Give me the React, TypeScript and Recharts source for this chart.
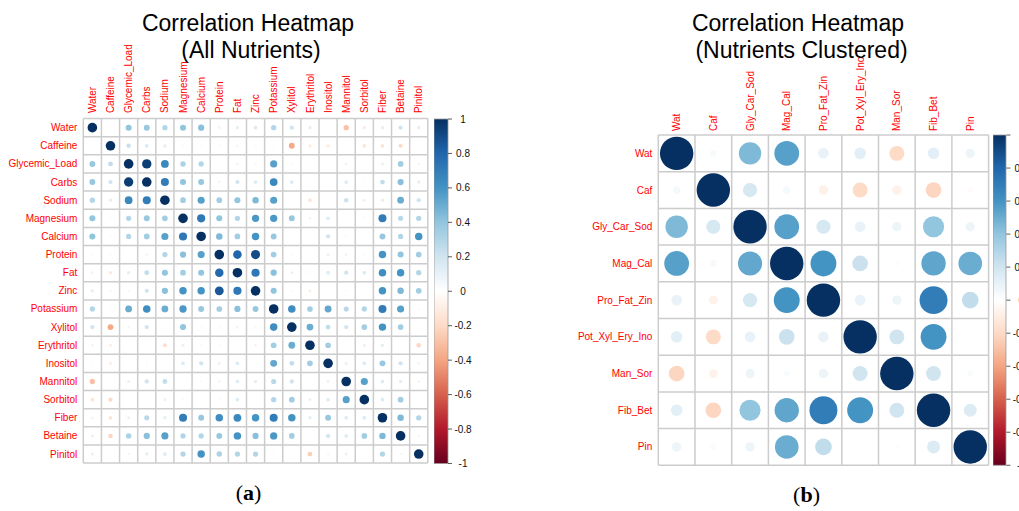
import React from 'react';
import { ScatterChart, Scatter, BarChart, Bar, XAxis, YAxis, ReferenceLine } from 'recharts';

const allNutrients = [
  'Water', 'Caffeine', 'Glycemic_Load', 'Carbs', 'Sodium', 'Magnesium', 'Calcium', 'Protein', 'Fat', 'Zinc',
  'Potassium', 'Xylitol', 'Erythritol', 'Inositol', 'Mannitol', 'Sorbitol', 'Fiber', 'Betaine', 'Pinitol',
];

const clusterNutrients = ['Wat', 'Caf', 'Gly_Car_Sod', 'Mag_Cal', 'Pro_Fat_Zin', 'Pot_Xyl_Ery_Ino', 'Man_Sor', 'Fib_Bet', 'Pin'];

const waterRow = [1, 0.04, 0.4, 0.38, 0.3, 0.4, 0.42, 0.08, 0.12, 0.15, 0.3, 0.2, 0.12, -0.05, -0.3, -0.12, 0.12, 0.2, 0.12];
const caffeineRow = [0.03, 1, 0.22, 0.15, 0.12, 0.05, 0.04, -0.05, -0.07, -0.05, -0.04, -0.38, -0.12, -0.12, 0.02, -0.15, -0.15, -0.2, -0.02];
const glycemicRow = [0.38, 0.25, 1, 0.95, 0.65, 0.32, 0.3, 0.02, 0.08, 0.05, 0.55, 0.05, 0, 0.02, 0.08, 0.02, 0.1, 0.35, 0.07];
const carbsRow = [0.38, 0.2, 0.95, 1, 0.7, 0.4, 0.38, 0.07, 0.2, 0.15, 0.65, 0.15, 0, 0.04, 0.15, 0.04, 0.25, 0.42, 0.12];
const sodiumRow = [0.3, 0.12, 0.65, 0.7, 1, 0.35, 0.55, 0.35, 0.4, 0.45, 0.55, 0.02, -0.15, 0.02, 0.22, 0.1, 0.12, 0.5, 0.2];
const magnesiumRow = [0.4, 0.05, 0.3, 0.38, 0.35, 1, 0.72, 0.4, 0.3, 0.58, 0.58, 0.38, 0.08, 0.15, 0.02, 0.05, 0.7, 0.28, 0.3];
const calciumRow = [0.4, 0.05, 0.3, 0.35, 0.55, 0.72, 1, 0.45, 0.35, 0.6, 0.38, 0.03, -0.03, 0.2, 0.05, 0.02, 0.38, 0.3, 0.6];
const proteinRow = [0.05, -0.05, 0.02, 0.08, 0.3, 0.42, 0.55, 1, 0.8, 0.9, 0.35, 0.05, 0.02, 0.1, 0.08, 0.05, 0.6, 0.4, 0.35];
const fatRow = [0.08, -0.12, 0.12, 0.25, 0.4, 0.35, 0.4, 0.78, 1, 0.72, 0.42, 0.1, -0.04, 0.15, 0.2, 0.15, 0.62, 0.6, 0.3];
const zincRow = [0.12, -0.06, 0.06, 0.2, 0.42, 0.6, 0.6, 0.85, 0.72, 1, 0.4, 0.05, -0.1, 0.02, 0.05, 0.02, 0.6, 0.45, 0.35];
const potassiumRow = [0.3, -0.04, 0.5, 0.62, 0.5, 0.58, 0.38, 0.35, 0.42, 0.38, 1, 0.62, 0.35, 0.52, 0.28, 0.3, 0.7, 0.55, 0.05];
const xylitolRow = [0.2, -0.38, 0.07, 0.2, 0.02, 0.4, 0.04, 0.05, 0.08, 0.05, 0.62, 1, 0.5, 0.25, 0.2, 0.35, 0.6, 0.35, 0.03];
const erythritolRow = [0.08, -0.1, 0.02, 0, -0.18, 0.1, -0.05, -0.05, -0.03, -0.08, 0.35, 0.5, 1, 0.35, 0.01, 0.1, 0.12, 0.02, -0.22];
const inositolRow = [-0.04, -0.1, -0.02, 0.05, 0.02, 0.15, 0.2, 0.1, 0.15, 0.02, 0.52, 0.25, 0.35, 1, 0.1, 0.15, 0.38, 0.2, 0.08];
const mannitolRow = [-0.3, 0.02, 0.1, 0.2, 0.25, 0.02, 0.05, 0.08, 0.15, 0.12, 0.28, 0.2, 0.02, 0.1, 1, 0.55, 0.15, 0.12, 0.08];
const sorbitolRow = [-0.15, -0.2, 0.02, 0.02, 0.1, 0.05, 0.03, 0.05, 0.15, 0.04, 0.3, 0.35, 0.1, 0.15, 0.55, 1, 0.15, 0.35, 0.02];
const fiberRow = [0.08, -0.15, 0.1, 0.28, 0.12, 0.7, 0.38, 0.62, 0.65, 0.6, 0.7, 0.6, 0.12, 0.38, 0.15, 0.15, 1, 0.45, 0.3];
const betaineRow = [0.1, -0.22, 0.32, 0.42, 0.55, 0.3, 0.3, 0.38, 0.6, 0.42, 0.58, 0.35, 0.02, 0.2, 0.15, 0.35, 0.45, 1, 0.06];
const pinitolRow = [0.1, -0.02, 0.07, 0.12, 0.15, 0.3, 0.6, 0.32, 0.3, 0.3, 0.04, 0.01, -0.25, 0.06, 0.1, 0.02, 0.3, 0.06, 1];

const allCorr = [
  waterRow, caffeineRow, glycemicRow, carbsRow, sodiumRow, magnesiumRow, calciumRow, proteinRow, fatRow, zincRow,
  potassiumRow, xylitolRow, erythritolRow, inositolRow, mannitolRow, sorbitolRow, fiberRow, betaineRow, pinitolRow,
];

const clusterCorr = [
  [1, 0.04, 0.45, 0.55, 0.1, 0.12, -0.2, 0.12, 0.08],
  [0.05, 1, 0.18, 0.05, -0.08, -0.2, -0.08, -0.22, -0.03],
  [0.45, 0.18, 1, 0.55, 0.18, 0.1, 0.08, 0.4, 0.08],
  [0.55, 0.04, 0.52, 1, 0.6, 0.22, 0.02, 0.53, 0.5],
  [0.1, -0.07, 0.18, 0.6, 1, 0.1, 0.08, 0.7, 0.25],
  [0.12, -0.2, 0.1, 0.22, 0.1, 1, 0.2, 0.6, 0.01],
  [-0.22, -0.07, 0.08, 0.03, 0.08, 0.2, 1, 0.2, 0.03],
  [0.12, -0.22, 0.4, 0.53, 0.7, 0.6, 0.2, 1, 0.15],
  [0.08, -0.03, 0.08, 0.5, 0.25, 0.01, 0.02, 0.15, 1],
];

const colorbarTicks = [1, 0.8, 0.6, 0.4, 0.2, 0, -0.2, -0.4, -0.6, -0.8, -1];
const colorbarRange = [{ key: 'scale', range: [-1, 1] }];
const titleA = ['Correlation Heatmap', '(All Nutrients)'];
const titleB = ['Correlation Heatmap', '(Nutrients Clustered)'];

const RDBU = ['#67001F', '#B2182B', '#D6604D', '#F4A582', '#FDDBC7', '#FFFFFF', '#D1E5F0', '#92C5DE', '#4393C3', '#2166AC', '#053061'];
const FONT = '"Liberation Sans", Arial, sans-serif';
const LABEL_RED = '#FF0000';
const GRID = '#CCCCCC';

function hexToRgb(h: string) {
  const n = parseInt(h.slice(1), 16);
  return [(n >> 16) & 255, (n >> 8) & 255, n & 255];
}

function corrColor(v: number) {
  const t = Math.max(0, Math.min(10, (v + 1) * 5));
  const i = Math.min(9, Math.floor(t));
  const f = t - i;
  const a = hexToRgb(RDBU[i]);
  const b = hexToRgb(RDBU[i + 1]);
  const c = a.map((x, k) => Math.round(x + (b[k] - x) * f));
  return `rgb(${c[0]},${c[1]},${c[2]})`;
}

type GridProps = {
  labels: string[];
  matrix: number[][];
  left: number;
  top: number;
  size: number;
  rFrac: number;
  fontSize: number;
  colGap: number;
  rowGap: number;
};

function CorrGrid({ labels, matrix, left, top, size, rFrac, fontSize, colGap, rowGap }: GridProps) {
  const n = labels.length;
  const cell = size / n;
  const rMax = cell * rFrac;
  const cells = matrix.flatMap((row, i) => row.map((v, j) => ({ x: j + 0.5, y: i + 0.5, v })));
  const centers = labels.map((_, i) => i + 0.5);
  const bounds = Array.from({ length: n + 1 }, (_, i) => i);
  const pad = 3;
  return (
    <div style={{ position: 'absolute', left: 0, top: 0 }}>
      <ScatterChart width={left + size + pad} height={top + size + pad} margin={{ top: 0, left: 0, right: pad, bottom: pad }}>
        <XAxis
          type="number"
          dataKey="x"
          orientation="top"
          domain={[0, n]}
          ticks={centers}
          interval={0}
          height={top}
          axisLine={false}
          tickLine={false}
          tick={(p: any) => (
            <text
              transform={`translate(${p.x + fontSize * 0.36}, ${top - colGap}) rotate(-90)`}
              textAnchor="start"
              fontSize={fontSize}
              fontFamily={FONT}
              fill={LABEL_RED}
            >
              {labels[Math.floor(p.payload.value)]}
            </text>
          )}
        />
        <YAxis
          type="number"
          dataKey="y"
          reversed
          domain={[0, n]}
          ticks={centers}
          interval={0}
          width={left}
          axisLine={false}
          tickLine={false}
          tick={(p: any) => (
            <text x={left - rowGap} y={p.y} dy="0.35em" textAnchor="end" fontSize={fontSize} fontFamily={FONT} fill={LABEL_RED}>
              {labels[Math.floor(p.payload.value)]}
            </text>
          )}
        />
        {bounds.map((b) => (
          <ReferenceLine key={`vx${b}`} x={b} stroke={GRID} strokeWidth={1.5} />
        ))}
        {bounds.map((b) => (
          <ReferenceLine key={`hy${b}`} y={b} stroke={GRID} strokeWidth={1.5} />
        ))}
        <Scatter
          data={cells}
          isAnimationActive={false}
          shape={(p: any) => {
            const v = p.payload.v as number;
            return <circle cx={p.cx} cy={p.cy} r={rMax * Math.sqrt(Math.abs(v))} fill={corrColor(v)} />;
          }}
        />
      </ScatterChart>
    </div>
  );
}

type BarProps = { id: string; left: number; top: number; width: number; height: number; labelOffset: number };

function ColorBar({ id, left, top, width, height, labelOffset }: BarProps) {
  const labelW = 40;
  const vpad = 8;
  const stops = RDBU.slice().reverse();
  return (
    <div style={{ position: 'absolute', left, top: top - vpad }}>
      <BarChart
        width={width + labelW}
        height={height + 2 * vpad}
        data={colorbarRange}
        margin={{ top: vpad, left: 0, right: 0, bottom: vpad }}
        barCategoryGap={0}
        barGap={0}
      >
        <defs>
          <linearGradient id={id} x1="0" y1="0" x2="0" y2="1">
            {stops.map((c, i) => (
              <stop key={i} offset={`${i * 10}%`} stopColor={c} />
            ))}
          </linearGradient>
        </defs>
        <XAxis type="category" dataKey="key" hide />
        <YAxis
          type="number"
          domain={[-1, 1]}
          orientation="right"
          ticks={colorbarTicks}
          interval={0}
          width={labelW}
          axisLine={false}
          tickLine={{ stroke: '#333', strokeWidth: 0.8 }}
          tickSize={4}
          tick={(p: any) => (
            <text x={width + labelOffset} y={p.y} dy="0.35em" textAnchor="middle" fontSize={10} fontFamily={FONT} fill="#111">
              {String(p.payload.value)}
            </text>
          )}
        />
        <Bar dataKey="range" fill={`url(#${id})`} stroke="#999" strokeWidth={0.8} isAnimationActive={false} />
      </BarChart>
    </div>
  );
}

export default function App() {
  return (
    <div style={{ position: 'absolute', left: 0, top: 0, width: 1019, height: 511, overflow: 'hidden', background: '#fff' }}>
      <CorrGrid labels={allNutrients} matrix={allCorr} left={83.3} top={118.6} size={344.5} rFrac={0.265} fontSize={10} colGap={5.5} rowGap={6} />
      <ColorBar id="cbA" left={434} top={118.6} width={14} height={344.5} labelOffset={15} />
      <CorrGrid labels={clusterNutrients} matrix={clusterCorr} left={658.3} top={135} size={330.3} rFrac={0.455} fontSize={10} colGap={4} rowGap={6} />
      <ColorBar id="cbB" left={993.3} top={135} width={13.4} height={330.3} labelOffset={15} />
      <svg width={1019} height={511} style={{ position: 'absolute', left: 0, top: 0, pointerEvents: 'none' }}>
        <text x={248} y={31} textAnchor="middle" fontSize={23} fontFamily={FONT} fill="#000">{titleA[0]}</text>
        <text x={251} y={58} textAnchor="middle" fontSize={23} fontFamily={FONT} fill="#000">{titleA[1]}</text>
        <text x={798} y={31} textAnchor="middle" fontSize={23} fontFamily={FONT} fill="#000">{titleB[0]}</text>
        <text x={801.5} y={58} textAnchor="middle" fontSize={23} fontFamily={FONT} fill="#000">{titleB[1]}</text>
        <text x={248.5} y={500} textAnchor="middle" fontSize={22} fontFamily='"Liberation Serif", "Times New Roman", serif' fill="#000">
          (<tspan fontWeight="bold">a</tspan>)
        </text>
        <text x={806.5} y={501.5} textAnchor="middle" fontSize={22} fontFamily='"Liberation Serif", "Times New Roman", serif' fill="#000">
          (<tspan fontWeight="bold">b</tspan>)
        </text>
      </svg>
    </div>
  );
}
